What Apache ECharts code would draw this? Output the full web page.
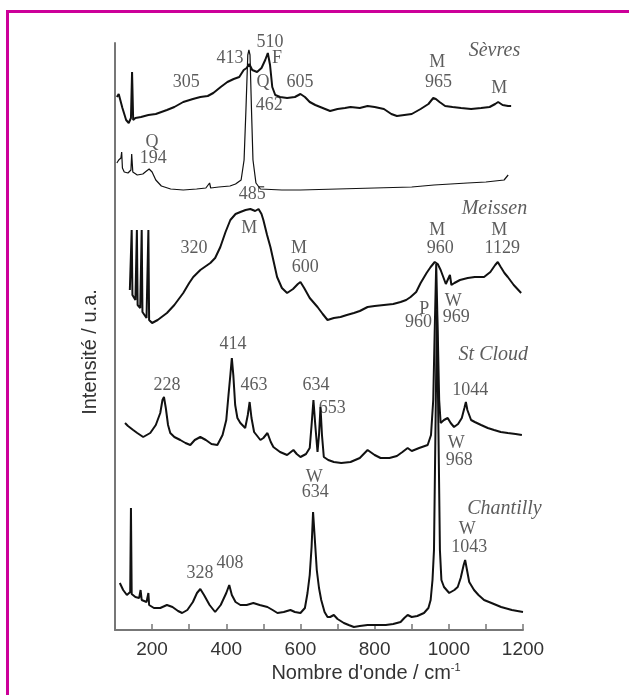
<!DOCTYPE html>
<html>
<head>
<meta charset="utf-8">
<script src="https://cdn.jsdelivr.net/npm/echarts@6/dist/echarts.min.js"></script>
<style>
  html, body { margin: 0; padding: 0; background: #fff; }
  #frame { position: absolute; left: 6px; top: 10px; width: 700px; height: 700px;
           border-top: 3px solid #cc0099; border-left: 3px solid #cc0099; }
  #chart { position: absolute; left: 0; top: 0; width: 629px; height: 695px; }
</style>
</head>
<body>
<div id="frame"></div>
<div id="chart"></div>
<script>
// spectres Raman, décalés verticalement (intensité u.a.), [nombre d'onde, intensité]
var sevres = [[105,533],[110,536],[120,522],[130,510],[137,507],[143,512],[146,558],[149,510],[155,512],[170,513],[190,515],[210,516],[240,520],[260,523],[284,528],[310,531],[330,533],[350,534],[365,537],[385,543],[403,548],[420,551],[435,553],[447,560],[455,562],[462,566],[470,560],[483,558],[495,562],[505,570],[512,577],[518,565],[524,543],[532,535],[545,533],[564,532],[585,533],[600,536],[612,533],[625,528],[640,525],[660,522],[680,519],[700,521],[720,522],[735,523],[760,522],[781,524],[800,523],[825,521],[845,516],[860,514],[880,515],[900,516],[924,521],[945,526],[958,532],[965,531],[975,528],[990,524],[1010,523],[1033,522],[1060,521],[1087,522],[1110,523],[1125,526],[1133,528],[1145,525],[1160,524],[1168,524]];
var quartz = [[105,467],[110,470],[116,472],[118,478],[120,462],[125,458],[135,457],[143,460],[145,476],[148,458],[160,455],[175,456],[185,459],[192,461],[200,458],[210,450],[225,444],[250,441],[284,440],[320,441],[345,442],[355,447],[358,442],[380,443],[410,444],[425,446],[440,450],[448,470],[453,520],[458,575],[461,580],[464,575],[468,520],[472,470],[480,447],[492,441],[550,440],[600,440],[700,441],[800,442],[900,443],[960,445],[1050,447],[1100,448],[1149,450],[1160,455]];
var meissen = [[140,340],[145,400],[147,335],[155,330],[159,400],[161,325],[168,322],[172,400],[174,318],[185,312],[190,400],[192,310],[200,307],[215,310],[240,317],[260,325],[284,337],[300,347],[311,353],[330,360],[357,367],[370,372],[384,383],[398,398],[411,410],[425,416],[438,418],[452,420],[465,421],[478,419],[487,421],[495,416],[500,410],[510,395],[519,383],[528,368],[537,353],[550,342],[564,337],[580,341],[593,346],[600,348],[610,342],[625,332],[646,323],[660,316],[673,310],[690,312],[708,313],[725,315],[744,317],[760,319],[781,323],[800,324],[825,325],[850,326],[870,328],[885,330],[897,333],[912,338],[924,347],[940,357],[951,363],[962,368],[970,366],[978,360],[986,352],[992,346],[997,347],[1003,355],[1007,345],[1015,347],[1030,350],[1051,352],[1070,353],[1095,353],[1112,358],[1125,365],[1132,368],[1140,363],[1150,357],[1159,353],[1175,345],[1195,337]];
var stCloud = [[127,207],[135,204],[149,200],[160,197],[176,193],[195,197],[210,205],[222,217],[228,230],[232,233],[237,222],[243,205],[249,197],[260,193],[276,190],[290,187],[303,185],[315,190],[330,193],[345,190],[360,186],[376,185],[390,195],[400,210],[406,235],[411,255],[415,272],[419,255],[424,225],[430,212],[438,207],[451,202],[458,215],[463,228],[468,212],[475,198],[492,190],[500,192],[511,197],[520,188],[527,183],[545,178],[564,175],[581,180],[590,176],[600,173],[615,176],[625,182],[630,205],[635,230],[640,205],[646,178],[650,195],[654,223],[658,195],[663,173],[675,170],[690,168],[710,167],[735,168],[760,172],[781,180],[800,175],[816,172],[840,172],[860,174],[875,178],[889,182],[900,179],[920,182],[943,185],[952,195],[958,230],[962,300],[966,366],[970,300],[974,230],[978,207],[987,210],[997,212],[1005,207],[1014,203],[1025,206],[1035,212],[1042,222],[1046,228],[1050,220],[1060,210],[1070,208],[1087,205],[1105,202],[1122,200],[1140,198],[1159,197],[1180,196],[1197,195]];
var chantilly = [[113,47],[117,48],[122,40],[132,35],[141,38],[143,122],[145,36],[155,33],[165,32],[169,40],[172,30],[185,28],[190,37],[192,25],[205,22],[222,22],[240,25],[255,23],[270,19],[281,17],[295,20],[310,28],[321,37],[330,41],[340,35],[355,25],[370,18],[385,25],[400,37],[408,45],[415,35],[425,28],[438,25],[455,25],[473,27],[490,25],[511,23],[525,20],[538,17],[555,18],[573,20],[585,18],[600,17],[612,22],[619,37],[625,55],[630,83],[634,118],[638,95],[644,60],[650,42],[656,30],[665,18],[673,13],[680,13],[690,15],[700,11],[717,7],[730,5],[744,3],[760,4],[781,5],[800,5],[830,5],[850,6],[870,8],[880,12],[889,15],[900,13],[915,14],[933,17],[945,22],[951,30],[956,50],[960,80],[964,200],[968,320],[972,200],[976,80],[980,50],[987,43],[1001,37],[1015,40],[1024,43],[1032,52],[1040,65],[1044,70],[1048,62],[1055,48],[1068,40],[1080,35],[1095,30],[1115,27],[1141,23],[1170,20],[1200,18]];

// annotations des pics
var peakText = ['510','413','F','305','Q','605','462','M','965','M','Q','194','485','M','320','M','600','M','960','M','1129','P','960','W','969','414','228','463','634','653','1044','W','968','W','634','W','1043','328','408'];
var peakX = [518,410,537,292,499,599,516,969,972,1136,200,203,470,462,313,596,613,969,977,1136,1144,934,918,1012,1020,418,240,475,642,686,1058,1020,1028,637,640,1050,1055,329,410];
var peakY = [588,572,572,548,548,548,525,568,548,542,488,472,436,402,382,382,363,400,382,400,382,321,308,329,313,286,245,245,245,222,240,187,170,153,138,101,83,57,67];

var sampleNames = ['Sèvres','Meissen','St Cloud','Chantilly'];
var nameX = [1123,1123,1120,1150];
var nameY = [579,421,275,121];

var xTicks = [200,400,600,800,1000,1200];

var chart = echarts.init(document.getElementById('chart'));

function line(data, w) {
  return {
    type: 'line', data: data, showSymbol: false, silent: true,
    lineStyle: { color: '#111', width: w }, clip: false
  };
}

var peakData = [];
for (var i = 0; i < peakText.length; i++) {
  peakData.push([peakX[i], peakY[i], peakText[i]]);
}
var nameData = [];
for (var j = 0; j < sampleNames.length; j++) {
  nameData.push([nameX[j], nameY[j], sampleNames[j]]);
}

chart.setOption({
  animation: false,
  grid: { left: 115, right: 106, top: 43, bottom: 65 },
  xAxis: {
    type: 'value', min: 100, max: 1200, interval: 100,
    axisLine: { lineStyle: { color: '#777', width: 2 } },
    axisTick: { inside: true, length: 6, lineStyle: { color: '#777', width: 1.5 } },
    splitLine: { show: false },
    axisLabel: {
      margin: 10, fontFamily: 'Liberation Sans', fontSize: 19, color: '#333',
      formatter: function (v) { return xTicks.indexOf(v) >= 0 ? String(v) : ''; }
    }
  },
  yAxis: {
    type: 'value', min: 0, max: 587,
    axisLine: { show: true, lineStyle: { color: '#777', width: 2 } },
    axisTick: { show: false }, axisLabel: { show: false }, splitLine: { show: false }
  },
  graphic: [
    {
      type: 'text', x: 90, y: 352, rotation: Math.PI / 2,
      style: { text: 'Intensité / u.a.', font: '20px "Liberation Sans"', fill: '#333',
               textAlign: 'center', textVerticalAlign: 'middle' }
    },
    {
      type: 'text', x: 366, y: 673,
      style: {
        text: "{m|Nombre d'onde / cm}{s|-1}",
        textAlign: 'center', textVerticalAlign: 'middle',
        rich: {
          m: { font: '20px "Liberation Sans"', fill: '#333' },
          s: { font: '11px "Liberation Sans"', fill: '#333', padding: [0, 0, 10, 0] }
        }
      }
    }
  ],
  series: [
    line(sevres, 2),
    line(quartz, 1.2),
    line(meissen, 2),
    line(stCloud, 2),
    line(chantilly, 2),
    {
      type: 'scatter', data: peakData, symbolSize: 0, silent: true, clip: false,
      label: {
        show: true, position: 'inside', formatter: function (p) { return p.value[2]; },
        fontFamily: 'Liberation Serif', fontSize: 18, color: '#333'
      }
    },
    {
      type: 'scatter', data: nameData, symbolSize: 0, silent: true, clip: false,
      label: {
        show: true, position: 'inside', formatter: function (p) { return p.value[2]; },
        fontFamily: 'Liberation Serif', fontStyle: 'italic', fontSize: 20, color: '#333'
      }
    }
  ]
});
</script>
</body>
</html>
